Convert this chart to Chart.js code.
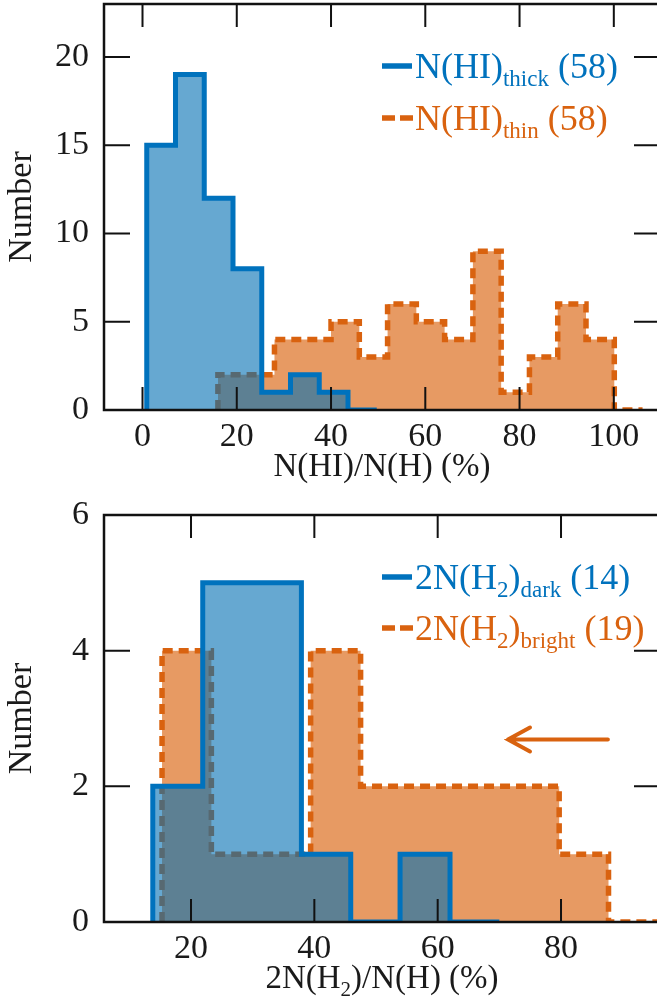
<!DOCTYPE html>
<html>
<head>
<meta charset="utf-8">
<script src="https://cdn.jsdelivr.net/npm/chart.js@4.4.0/dist/chart.umd.min.js"></script>
<style>
  html, body { margin: 0; padding: 0; background: #fff; width: 657px; height: 1001px; overflow: hidden; }
  .panel { position: absolute; left: 0; }
  #top { top: 0; }
  #bottom { top: 490px; }
</style>
</head>
<body>
<div class="panel" id="top"><canvas id="hiChart" width="662" height="490"></canvas></div>
<div class="panel" id="bottom"><canvas id="h2Chart" width="662" height="511"></canvas></div>
<script>
// top panel: N(HI)/N(H)
const hiThickEdges = [0.9, 7.0, 13.1, 19.2, 25.3, 31.4, 37.5, 43.6, 49.7];
const hiThickCounts = [15, 19, 12, 8, 1, 2, 1, 0];
const hiThinEdges = [16.0, 22.0, 28.0, 34.0, 40.0, 46.0, 52.0, 58.1, 64.1, 70.1, 76.1, 82.1, 88.1, 94.1, 100.1, 106.1];
const hiThinCounts = [2, 2, 4, 4, 5, 3, 6, 5, 4, 9, 1, 3, 6, 4, 0];
const hiTicksX = [0, 20, 40, 60, 80, 100];
const hiTicksY = [0, 5, 10, 15, 20];

// bottom panel: 2N(H2)/N(H)
const darkEdges = [13.8, 21.9, 29.9, 37.9, 45.9, 53.9, 62.0, 70.0];
const darkCounts = [2, 5, 5, 1, 0, 1, 0];
const brightEdges = [15.3, 23.3, 31.4, 39.4, 47.5, 55.5, 63.6, 71.6, 79.7, 87.7, 95.8];
const brightCounts = [4, 1, 1, 4, 2, 2, 2, 2, 1, 0];
const h2TicksX = [20, 40, 60, 80];
const h2TicksY = [0, 2, 4, 6];

// arrow in the bottom panel, data coords [x, y]
const arrowFrom = [87.6, 2.69];
const arrowTo = [71.4, 2.69];

// legend / title texts, [text, isSubscript]
const hiLegend = [
  [['N(HI)', 0], ['thick', 1], [' (58)', 0]],
  [['N(HI)', 0], ['thin', 1], [' (58)', 0]]
];
const h2Legend = [
  [['2N(H', 0], ['2', 1], [')', 0], ['dark', 1], [' (14)', 0]],
  [['2N(H', 0], ['2', 1], [')', 0], ['bright', 1], [' (19)', 0]]
];
const hiTitle = [['N(HI)/N(H) (%)', 0]];
const h2Title = [['2N(H', 0], ['2', 1], [')/N(H) (%)', 0]];

const BLUE = '#0072BD';
const BLUE_FILL = 'rgba(0,110,178,0.6)';
const ORANGE = '#D9620F';
const ORANGE_FILL = 'rgba(218,100,16,0.65)';
const FONT = "'Liberation Serif', 'DejaVu Serif', serif";
const TEXT = '#1a1a1a';

function steps(edges, counts) {
  const pts = [{ x: edges[0], y: 0 }];
  counts.forEach((c, i) => pts.push({ x: edges[i], y: c }));
  pts.push({ x: edges[edges.length - 1], y: 0 });
  return pts;
}

function richWidth(ctx, parts, size) {
  let w = 0;
  parts.forEach(([t, sub]) => {
    ctx.font = (sub ? Math.round(size * 0.63) + 'px ' : size + 'px ') + FONT;
    w += ctx.measureText(t).width;
  });
  return w;
}

function drawRich(ctx, parts, x, y, color, size) {
  ctx.fillStyle = color;
  ctx.textBaseline = 'alphabetic';
  ctx.textAlign = 'left';
  parts.forEach(([t, sub]) => {
    ctx.font = (sub ? Math.round(size * 0.63) + 'px ' : size + 'px ') + FONT;
    ctx.fillText(t, x, sub ? y + 8 : y);
    x += ctx.measureText(t).width;
  });
}

const framePlugin = {
  id: 'frame',
  afterDatasetsDraw(chart) {
    const { ctx, chartArea: a, scales: { x, y } } = chart;
    ctx.save();
    ctx.strokeStyle = '#111';
    ctx.lineWidth = 2.5;
    ctx.strokeRect(a.left, a.top, a.right - a.left, a.bottom - a.top);
    ctx.lineWidth = 2;
    ctx.beginPath();
    x.ticks.forEach(t => {
      const px = x.getPixelForValue(t.value);
      ctx.moveTo(px, a.bottom); ctx.lineTo(px, a.bottom - 23);
      ctx.moveTo(px, a.top); ctx.lineTo(px, a.top + 23);
    });
    y.ticks.forEach(t => {
      const py = y.getPixelForValue(t.value);
      ctx.moveTo(a.left, py); ctx.lineTo(a.left + 26, py);
      ctx.moveTo(a.right, py); ctx.lineTo(a.right - 26, py);
    });
    ctx.stroke();
    ctx.restore();
  }
};

function textPlugin(legend, title, legendY) {
  return {
    id: 'texts',
    afterDraw(chart) {
      const { ctx, chartArea: a } = chart;
      ctx.save();
      legend.forEach((parts, i) => {
        const base = legendY[i];
        const color = i === 0 ? BLUE : ORANGE;
        ctx.strokeStyle = color;
        ctx.lineWidth = 5.5;
        ctx.beginPath();
        if (i === 0) {
          ctx.moveTo(382, base - 12); ctx.lineTo(412, base - 12);
        } else {
          ctx.moveTo(382, base - 12); ctx.lineTo(395, base - 12);
          ctx.moveTo(400, base - 12); ctx.lineTo(413, base - 12);
        }
        ctx.stroke();
        drawRich(ctx, parts, 415, base, color, 36);
      });
      const w = richWidth(ctx, title, 33);
      drawRich(ctx, title, (a.left + a.right) / 2 - w / 2, a.bottom + 66, TEXT, 33);
      ctx.restore();
    }
  };
}

const arrowPlugin = {
  id: 'arrow',
  afterDatasetsDraw(chart) {
    const { ctx, scales: { x, y } } = chart;
    const x0 = x.getPixelForValue(arrowFrom[0]), y0 = y.getPixelForValue(arrowFrom[1]);
    const x1 = x.getPixelForValue(arrowTo[0]), y1 = y.getPixelForValue(arrowTo[1]);
    ctx.save();
    ctx.strokeStyle = ORANGE;
    ctx.lineWidth = 4;
    ctx.lineCap = 'round';
    ctx.beginPath();
    ctx.moveTo(x0, y0); ctx.lineTo(x1, y1);
    ctx.moveTo(x1 + 22, y1 - 12); ctx.lineTo(x1, y1); ctx.lineTo(x1 + 22, y1 + 12);
    ctx.stroke();
    ctx.restore();
  }
};

function histOptions(xMin, xMax, yMax, ticksX, ticksY, xAxisH, padTop) {
  return {
    responsive: false,
    animation: false,
    layout: { padding: { top: padTop, right: 2, left: 0, bottom: 0 } },
    plugins: { legend: { display: false }, tooltip: { enabled: false } },
    elements: { point: { radius: 0 } },
    scales: {
      x: {
        type: 'linear', min: xMin, max: xMax,
        grid: { display: false, drawTicks: false },
        border: { display: false },
        afterBuildTicks: s => { s.ticks = ticksX.map(v => ({ value: v })); },
        afterFit: s => { s.height = xAxisH; s.paddingLeft = 0; s.paddingRight = 0; },
        ticks: { font: { family: FONT, size: 34 }, color: TEXT, padding: 7, maxRotation: 0 }
      },
      y: {
        type: 'linear', min: 0, max: yMax,
        grid: { display: false, drawTicks: false },
        border: { display: false },
        afterBuildTicks: s => { s.ticks = ticksY.map(v => ({ value: v })); },
        afterFit: s => { s.width = 104; s.paddingTop = 0; s.paddingBottom = 0; },
        ticks: { font: { family: FONT, size: 34 }, color: TEXT, padding: 15 },
        title: { display: true, text: 'Number', font: { family: FONT, size: 34 }, color: TEXT, padding: { top: 2, bottom: 0 } }
      }
    }
  };
}

function histDataset(points, color, fill, dashed) {
  return {
    data: points,
    stepped: 'before',
    borderColor: color,
    backgroundColor: fill,
    borderWidth: dashed ? 5.5 : 5,
    borderDash: dashed ? [10, 6] : [],
    borderJoinStyle: 'miter',
    fill: 'origin'
  };
}

new Chart(document.getElementById('hiChart'), {
  type: 'line',
  data: {
    datasets: [
      histDataset(steps(hiThickEdges, hiThickCounts), BLUE, BLUE_FILL, false),
      histDataset(steps(hiThinEdges, hiThinCounts), ORANGE, ORANGE_FILL, true)
    ]
  },
  options: histOptions(-8.17, 109.8, 23.0, hiTicksX, hiTicksY, 80, 4),
  plugins: [framePlugin, textPlugin(hiLegend, hiTitle, [78, 130])]
});

new Chart(document.getElementById('h2Chart'), {
  type: 'line',
  data: {
    datasets: [
      histDataset(steps(darkEdges, darkCounts), BLUE, BLUE_FILL, false),
      histDataset(steps(brightEdges, brightCounts), ORANGE, ORANGE_FILL, true)
    ]
  },
  options: histOptions(5.89, 96.05, 6, h2TicksX, h2TicksY, 79, 25),
  plugins: [framePlugin, arrowPlugin, textPlugin(h2Legend, h2Title, [589 - 490, 640 - 490])]
});
</script>
</body>
</html>
